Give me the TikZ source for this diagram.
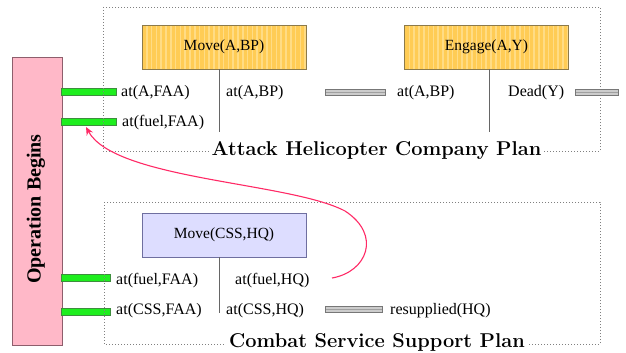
\documentclass[tikz,border=0pt]{standalone}
\usepackage{fontspec}
\newfontfamily\tnr{Liberation Serif}
\usetikzlibrary{arrows.meta}
\definecolor{orfill}{HTML}{FFCC55}
\definecolor{orstripe}{HTML}{FFDC85}
\definecolor{ordraw}{HTML}{8C7A4A}
\definecolor{lavfill}{HTML}{DDDDFF}
\definecolor{lavdraw}{HTML}{6F6FA0}
\definecolor{pinkfill}{HTML}{FFB8C8}
\definecolor{pinkdraw}{HTML}{8E5E6C}
\definecolor{grfill}{HTML}{1EEE1E}
\definecolor{grdraw}{HTML}{3E8E3E}
\definecolor{gbfill}{HTML}{CCCCCC}
\definecolor{gbdraw}{HTML}{777777}
\definecolor{arrred}{HTML}{FF2A66}
\begin{document}
\begin{tikzpicture}[x=1pt,y=-1pt,
  lbl/.style={font=\tnr\fontsize{16}{18}\selectfont, inner sep=0pt, anchor=base west},
  boxtext/.style={font=\tnr\fontsize{15.5}{18}\selectfont},
  plantitle/.style={font=\bfseries\fontsize{20}{22}\selectfont, fill=white, inner sep=3pt, anchor=base},
  frame/.style={draw=gray, line width=0.9pt, dash pattern=on 1pt off 2pt},
  actbox/.style={draw=ordraw, line width=0.8pt, fill=orfill, minimum width=164pt, minimum height=44pt, boxtext,
    path picture={\foreach \i in {1,...,34}{\draw[orstripe, line width=1.6pt]
      ([xshift=\i*4.8pt]path picture bounding box.south west) -- ([xshift=\i*4.8pt]path picture bounding box.north west);}}},
  cssbox/.style={draw=lavdraw, line width=0.8pt, fill=lavfill, minimum width=164pt, minimum height=44pt, boxtext},
  pinkbox/.style={draw=pinkdraw, line width=0.9pt, fill=pinkfill},
  pinktext/.style={font=\tnr\bfseries\fontsize{20}{22}\selectfont, rotate=90, inner sep=0pt},
  gbar/.style={draw=grdraw, line width=0.6pt, fill=grfill, minimum height=7pt, inner sep=0pt},
  greybar/.style={draw=gbdraw, line width=0.7pt, fill=gbfill, minimum height=6pt, inner sep=0pt,
    path picture={\draw[gbdraw!70, line width=0.5pt] (path picture bounding box.west) -- (path picture bounding box.east);}},
  link/.style={draw=gray!80!black, line width=0.8pt},
  redarrow/.style={draw=arrred, line width=1.1pt, -{Stealth[length=8pt, width=7pt]}}
]
\useasboundingbox (0,0) rectangle (626,353);

% Operation Begins
\node[pinkbox, minimum width=50pt, minimum height=288pt] (ob) at (37,201) {};
\node[pinktext] (obt) at (36,209) {Operation Begins};

% green bars
\node[gbar, minimum width=55pt] (g1) at (88.5,92) {};
\node[gbar, minimum width=55pt] (g2) at (88.5,122) {};
\node[gbar, minimum width=49pt] (g3) at (85.5,278) {};
\node[gbar, minimum width=49pt] (g4) at (85.5,312) {};

% frames
\draw[frame] (103,7) rectangle (600,151);
\draw[frame] (104,202) rectangle (600,344);

% upper plan
\node[actbox] (mab) at (224,47) {Move(A,BP)};
\node[actbox] (eng) at (486.5,47) {Engage(A,Y)};
\coordinate (l1) at (219,132);
\coordinate (l2) at (489,132);
\draw[link] (mab.south -| l1) -- (l1);
\draw[link] (eng.south -| l2) -- (l2);

\node[lbl] (afaa) at (121,96) {at(A,FAA)};
\node[lbl] (abp1) at (226,96) {at(A,BP)};
\node[lbl] (ffaa) at (122,126) {at(fuel,FAA)};
\node[lbl] (abp2) at (397,96) {at(A,BP)};
\node[lbl] (dead) at (508,96) {Dead(Y)};
\node[greybar, minimum width=60pt] (gb1) at (355,92) {};
\node[greybar, minimum width=43pt] (gb2) at (596.5,92) {};

\node[plantitle] (t1) at (376.5,155) {Attack Helicopter Company Plan};

% lower plan
\node[cssbox] (mcss) at (224,235) {Move(CSS,HQ)};
\coordinate (l3) at (219,313);
\draw[link] (mcss.south -| l3) -- (l3);

\node[lbl] (ffaa2) at (116,284) {at(fuel,FAA)};
\node[lbl] (cfaa) at (116,314) {at(CSS,FAA)};
\node[lbl] (fhq) at (235,284) {at(fuel,HQ)};
\node[lbl] (chq) at (226,314) {at(CSS,HQ)};
\node[greybar, minimum width=57pt] (gb3) at (353.5,309) {};
\node[lbl] (resup) at (390,314) {resupplied(HQ)};

\node[plantitle] (t2) at (377,347) {Combat Service Support Plan};

% red arrow
\coordinate (rs) at (332,278);
\coordinate (rt) at (86,127);
\draw[redarrow] (rs) .. controls (367,272) and (382,235) .. (345,211)
  .. controls (290,182) and (115,180) .. (rt);
\end{tikzpicture}
\end{document}
